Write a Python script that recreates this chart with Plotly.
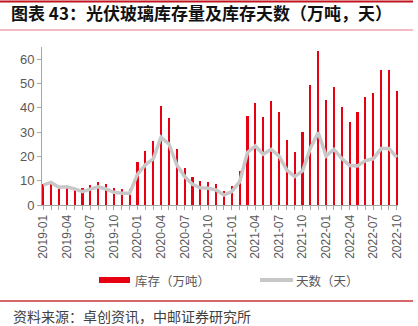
import plotly.graph_objects as go

months = []
for y in range(2019, 2023):
    for m in range(1, 13):
        if y == 2022 and m > 10:
            break
        months.append(f"{y}-{m:02d}")

inventory = [8.5, 9.6, 7.5, 8.0, 6.9, 6.9, 8.1, 9.6, 8.7, 7.1, 6.7, 6.6,
             17.7, 22.1, 26.5, 40.8, 35.7, 23.2, 15.4, 11.7, 10.0, 9.6, 8.7, 5.8,
             8.0, 14.1, 36.5, 42.0, 36.0, 42.6, 38.2, 26.8, 21.7, 30.1, 49.2, 63.5,
             43.0, 48.5, 40.2, 34.3, 38.2, 44.5, 46.2, 55.5, 55.5, 46.8]
days = [8.2, 9.3, 7.3, 7.5, 6.6, 5.5, 6.5, 7.5, 6.6, 5.2, 4.8, 4.8,
        12.6, 16.5, 19.0, 27.9, 25.1, 16.5, 11.7, 8.5, 7.1, 6.9, 6.2, 4.1,
        5.5, 9.6, 21.6, 24.3, 20.9, 22.9, 20.2, 14.4, 11.7, 14.0, 23.4, 29.8,
        20.2, 22.9, 19.1, 16.2, 16.1, 18.3, 19.0, 23.2, 23.2, 19.6]

title_text = "图表 43：光伏玻璃库存量及库存天数（万吨，天）"
source_text = "资料来源：卓创资讯，中邮证券研究所"
name_inv = "库存（万吨）"
name_days = "天数（天）"

W, H = 418, 326
L, R, T, B = 42, 398, 47, 205  # plot area in pixels

def px(x):
    return (x - L) / (R - L)

def py(y):
    return (B - y) / (B - T)

idx = list(range(len(months)))
tickvals = idx[::3]
ticktext = months[::3]

RED = "#E60012"
GRAY = "#C8C8C8"
AX = "#A6A6A6"
CJK = "Noto Sans CJK SC"

fig = go.Figure()
fig.add_trace(go.Bar(x=idx, y=inventory, width=0.28, marker=dict(color=RED, line=dict(width=0)),
                     name=name_inv, showlegend=False))
fig.add_trace(go.Scatter(x=idx, y=days, mode="lines", line=dict(color=GRAY, width=3.5),
                         name=name_days, showlegend=False))

legend_y = 280
fig.update_layout(
    width=W, height=H,
    margin=dict(l=L, r=W - R, t=T, b=H - B),
    paper_bgcolor="white", plot_bgcolor="white",
    font=dict(family="Liberation Sans, Arial, " + CJK, color="#595959"),
    bargap=0,
    showlegend=False,
    title=dict(text=title_text, xref="container", yref="container", x=11 / W, y=1 - 14 / H,
               xanchor="left", yanchor="middle",
               font=dict(family=CJK, size=17, color="#111111", weight="bold")),
    xaxis=dict(range=[-0.15, 45.15], tickmode="array", tickvals=tickvals, ticktext=ticktext,
               tickangle=-90, tickfont=dict(size=12, color="#595959"),
               showline=True, linecolor=AX, linewidth=1, ticks="outside", ticklen=4,
               tickcolor=AX, showgrid=False, zeroline=False,
               minor=dict(dtick=1, tick0=0, ticks="outside", ticklen=4, tickcolor=AX, showgrid=False)),
    yaxis=dict(range=[0, 65], dtick=10, tickfont=dict(size=13, color="#595959"),
               showline=True, linecolor=AX, linewidth=1, ticks="outside", ticklen=4,
               tickcolor=AX, showgrid=False, zeroline=False),
    shapes=[
        dict(type="line", xref="paper", yref="paper", x0=px(0), x1=px(413), y0=py(1.5), y1=py(1.5),
             line=dict(color="#C0141E", width=2)),
        dict(type="line", xref="paper", yref="paper", x0=px(0), x1=px(413), y0=py(30), y1=py(30),
             line=dict(color="#E27A84", width=1)),
        dict(type="line", xref="paper", yref="paper", x0=px(0), x1=px(413), y0=py(301), y1=py(301),
             line=dict(color="#C8343A", width=1.5)),
        # legend symbols
        dict(type="rect", xref="paper", yref="paper", x0=px(99), x1=px(130),
             y0=py(legend_y - 3), y1=py(legend_y + 3), fillcolor=RED, line=dict(width=0)),
        dict(type="line", xref="paper", yref="paper", x0=px(260), x1=px(293),
             y0=py(legend_y), y1=py(legend_y), line=dict(color=GRAY, width=4)),
    ],
    annotations=[
        dict(text=source_text, xref="paper", yref="paper", x=px(11), y=py(316),
             xanchor="left", yanchor="middle", showarrow=False,
             font=dict(family=CJK, size=14, color="#404040")),
        dict(text=name_inv, xref="paper", yref="paper", x=px(133), y=py(legend_y),
             xanchor="left", yanchor="middle", showarrow=False,
             font=dict(family=CJK, size=12.5, color="#595959")),
        dict(text=name_days, xref="paper", yref="paper", x=px(294), y=py(legend_y),
             xanchor="left", yanchor="middle", showarrow=False,
             font=dict(family=CJK, size=12.5, color="#595959")),
    ],
)

fig.write_html("out.html")
